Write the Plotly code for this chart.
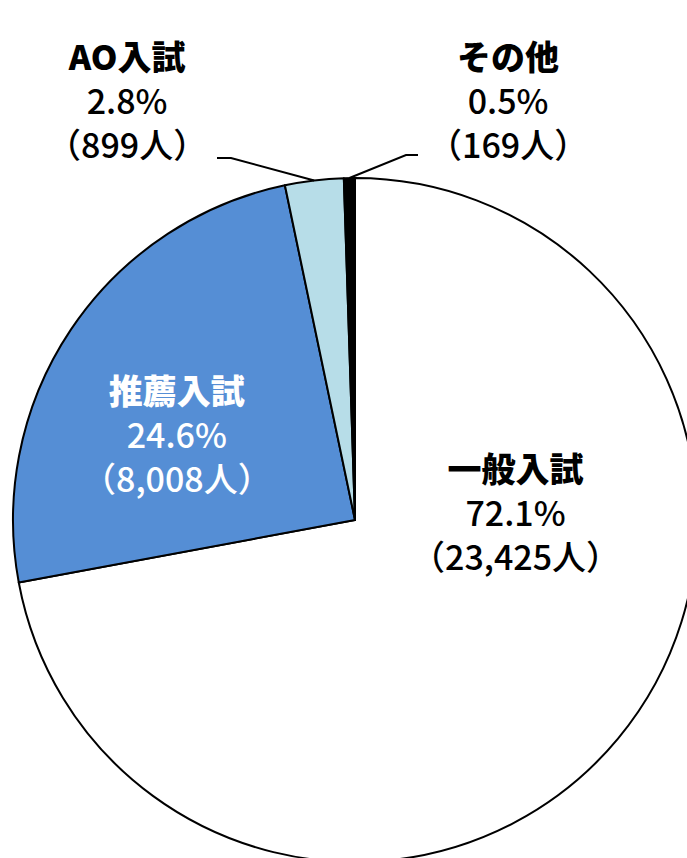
import math
import plotly.graph_objects as go

# ---- data ----
categories = ["一般入試", "推薦入試", "AO入試", "その他"]
counts = [23425, 8008, 899, 169]
percent_labels = ["72.1%", "24.6%", "2.8%", "0.5%"]
count_labels = ["（23,425人）", "（8,008人）", "（899人）", "（169人）"]

# ---- styling / layout ----
colors = ["#FFFFFF", "#558ED5", "#B7DDE8", "#000000"]
text_colors = ["#000000", "#FFFFFF", "#000000", "#000000"]
W, H = 710, 870
CX, CY, R = 355, 520, 342  # pie centre / radius in px
# label block centres (px): centre of the middle (percentage) line
label_pos = [(515, 511), (177, 433), (127, 100), (508, 100)]
# leader line elbow (px) for outside labels: (start_x, elbow_x, y)
leaders = {2: (217, 231, 158), 3: (418, 406, 155)}
FONT = "Noto Sans CJK JP"


def px(x):
    return x / W


def py(y):
    return 1 - y / H


fig = go.Figure(
    go.Pie(
        labels=categories,
        values=counts,
        sort=False,
        direction="clockwise",
        rotation=0,
        marker=dict(colors=colors, line=dict(color="#000000", width=2)),
        textinfo="none",
        hoverinfo="label+value+percent",
        domain=dict(x=[px(CX - R), px(CX + R)], y=[py(CY + R), py(CY - R)]),
        showlegend=False,
    )
)

annotations = []
for i, cat in enumerate(categories):
    x, y = label_pos[i]
    txt = (
        f"<span style='font-weight:900'>{cat}</span><br>"
        f"<span style='font-weight:500'>{percent_labels[i]}</span><br>"
        f"<span style='font-weight:500'>{count_labels[i]}</span>"
    )
    annotations.append(
        dict(
            x=px(x), y=py(y), xref="paper", yref="paper",
            text=txt, showarrow=False, xanchor="center", yanchor="middle",
            align="center",
            font=dict(family=FONT, size=34, color=text_colors[i]),
        )
    )

shapes = []
total = sum(counts)
cum = 0
for i, c in enumerate(counts):
    mid = (cum + c / 2) / total * 2 * math.pi
    cum += c
    if i in leaders:
        sx, ex, ly = leaders[i]
        tx = CX + R * math.sin(mid)
        ty = CY - R * math.cos(mid)
        shapes.append(
            dict(
                type="path", xref="paper", yref="paper",
                path=f"M {px(sx)} {py(ly)} L {px(ex)} {py(ly)} L {px(tx)} {py(ty)}",
                line=dict(color="#000000", width=2),
            )
        )

fig.update_layout(
    width=W, height=H,
    margin=dict(l=0, r=0, t=0, b=0),
    paper_bgcolor="#FFFFFF",
    plot_bgcolor="#FFFFFF",
    annotations=annotations,
    shapes=shapes,
)

fig.write_html(
    "out.html",
    post_script="document.documentElement.style.overflow='hidden';document.body.style.overflow='hidden';document.body.style.margin='0';",
)
